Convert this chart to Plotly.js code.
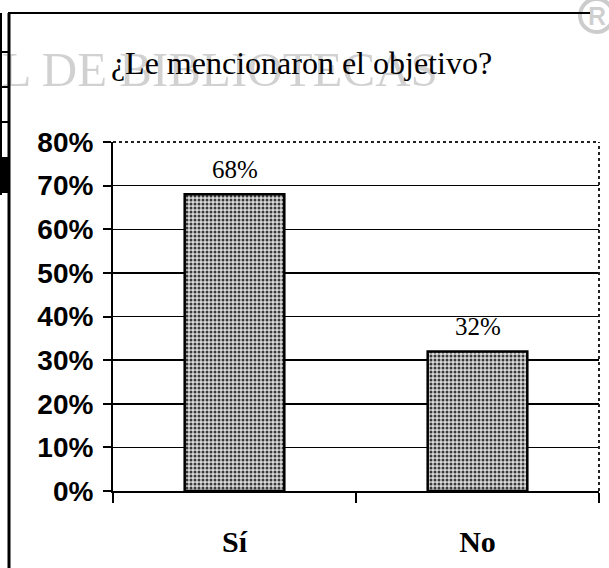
<!DOCTYPE html>
<html>
<head>
<meta charset="utf-8">
<script src="https://cdn.plot.ly/plotly-3.0.1.min.js"></script>
<style>
html,body{margin:0;padding:0;background:#fff;}
#chart{width:609px;height:568px;}
</style>
</head>
<body>
<div id="chart"></div>
<script>
// ---- data ----
const categories = ['Sí', 'No'];
const values = [0.68, 0.32];
const yTickVals = [0, 0.1, 0.2, 0.3, 0.4, 0.5, 0.6, 0.7, 0.8];
const yTickText = ['0%', '10%', '20%', '30%', '40%', '50%', '60%', '70%', '80%'];
const chartTitle = '¿Le mencionaron el objetivo?';
const watermarkText = 'AL DE BIBLIOTECAS';

// ---- geometry helpers (page px -> paper) ----
const W = 609, H = 568;
const M = {l: 113, r: 10, t: 142, b: 77};
const PW = W - M.l - M.r, PH = H - M.t - M.b;
const xp = px => (px - M.l) / PW;
const yp = py => (H - M.b - py) / PH;

const serif = '"Liberation Serif", "Times New Roman", serif';
const sans = '"Liberation Sans", Arial, sans-serif';

const trace = {
  type: 'bar',
  x: categories,
  y: values,
  marker: {
    color: '#cfcfcf',
    line: {color: '#000', width: 2.5},
    pattern: {shape: '.', fgcolor: '#3a3a3a', bgcolor: '#dadada', size: 4, solidity: 0.45}
  },
  hoverinfo: 'none'
};

const blk = '#000';
const wm = 'rgba(0,0,0,0.2)';
const line = (x0, y0, x1, y1, w, dash, color) => ({
  type: 'line', xref: 'paper', yref: 'paper',
  x0: xp(x0), y0: yp(y0), x1: xp(x1), y1: yp(y1),
  line: {color: color || blk, width: w, dash: dash || 'solid'}
});

const shapes = [
  // top dotted border of plot area (cover gridline first)
  {type: 'line', xref: 'paper', yref: 'paper', x0: 0.004, x1: 1, y0: 1, y1: 1, line: {color: '#fff', width: 3}},
  {type: 'line', xref: 'paper', yref: 'paper', x0: 0, x1: 1, y0: 1, y1: 1, line: {color: '#222', width: 2, dash: 'dot'}},
  {type: 'line', xref: 'paper', yref: 'paper', x0: 1, x1: 1, y0: 0, y1: 1, line: {color: '#222', width: 2, dash: 'dot'}},
  // scanned page frame
  line(8, 13, 590, 13, 2),
  line(9, 13, 9, 568, 3),
  line(1, 13, 1, 195, 2),
  line(0, 52, 8, 52, 2),
  line(0, 87, 8, 87, 2),
  line(0, 122, 8, 122, 2),
  {type: 'rect', xref: 'paper', yref: 'paper', x0: xp(0), x1: xp(8), y0: yp(193), y1: yp(157),
   fillcolor: blk, line: {width: 0}},
  // registered mark circle
  {type: 'circle', xref: 'paper', yref: 'paper', x0: xp(580), x1: xp(613), y0: yp(32), y1: yp(-1),
   line: {color: wm, width: 4}}
];

const annotations = [
  {xref: 'paper', yref: 'paper', x: xp(440), y: yp(70), xanchor: 'right', yanchor: 'middle',
   text: watermarkText, showarrow: false,
   font: {family: serif, size: 49, color: 'rgba(0,0,0,0.18)'}},
  {xref: 'paper', yref: 'paper', x: xp(597), y: yp(16), xanchor: 'center', yanchor: 'middle',
   text: 'R', showarrow: false,
   font: {family: sans, size: 25, color: wm, weight: 'bold'}}
];
categories.forEach((c, i) => {
  annotations.push({
    x: c, y: values[i], xref: 'x', yref: 'y',
    text: Math.round(values[i] * 100) + '%',
    showarrow: false, yanchor: 'bottom', yshift: 9,
    font: {family: serif, size: 25, color: '#000'}
  });
});

const layout = {
  width: W, height: H,
  margin: M,
  paper_bgcolor: '#fff', plot_bgcolor: '#fff',
  showlegend: false,
  bargap: 0.59,
  title: {
    text: chartTitle,
    x: 301.5 / W, xref: 'container', xanchor: 'center',
    y: 1 - 63 / H, yref: 'container', yanchor: 'middle',
    font: {family: serif, size: 32, color: '#000'}
  },
  xaxis: {
    type: 'category',
    showline: true, linecolor: '#000', linewidth: 2,
    ticks: 'outside', tickson: 'boundaries', ticklen: 10, tickwidth: 1.5, tickcolor: '#000',
    ticklabelstandoff: 23,
    tickfont: {family: serif, size: 30, color: '#000', weight: 'bold'},
    showgrid: false, zeroline: false, fixedrange: true
  },
  yaxis: {
    range: [0, 0.8],
    tickvals: yTickVals, ticktext: yTickText,
    showline: true, linecolor: '#000', linewidth: 2,
    ticks: 'outside', ticklen: 8, tickwidth: 2, tickcolor: '#000',
    ticklabelstandoff: 4,
    tickfont: {family: sans, size: 28, color: '#000', weight: 'bold'},
    showgrid: true, gridcolor: '#000', gridwidth: 1.5,
    zeroline: false, fixedrange: true
  },
  shapes: shapes,
  annotations: annotations
};

Plotly.newPlot('chart', [trace], layout, {displayModeBar: false, staticPlot: true});
</script>
</body>
</html>
